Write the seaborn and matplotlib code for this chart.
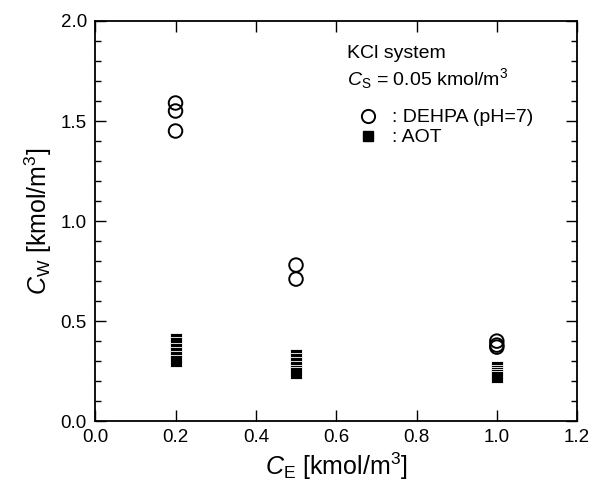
import numpy as np
import pandas as pd
import matplotlib
matplotlib.use('Agg')
import matplotlib.pyplot as plt
import seaborn as sns
from matplotlib.lines import Line2D

# Data
dehpa_ce = [0.2, 0.2, 0.2, 0.5, 0.5, 1.0, 1.0, 1.0]
dehpa_cw = [1.59, 1.55, 1.45, 0.78, 0.71, 0.40, 0.38, 0.37]

aot_ce = [0.2, 0.2, 0.2, 0.2, 0.2, 0.2,
          0.5, 0.5, 0.5, 0.5, 0.5, 0.5,
          1.0, 1.0, 1.0, 1.0, 1.0]
aot_cw = [0.41, 0.39, 0.36, 0.34, 0.32, 0.30,
          0.33, 0.31, 0.29, 0.27, 0.25, 0.24,
          0.27, 0.25, 0.24, 0.23, 0.22]

x_ticks = [0.0, 0.2, 0.4, 0.6, 0.8, 1.0, 1.2]
y_ticks = [0.0, 0.5, 1.0, 1.5, 2.0]

df = pd.concat([
    pd.DataFrame({'CE': dehpa_ce, 'CW': dehpa_cw, 'series': 'DEHPA'}),
    pd.DataFrame({'CE': aot_ce, 'CW': aot_cw, 'series': 'AOT'}),
])

sns.set_style('ticks')
plt.rcParams['font.family'] = ['Liberation Sans', 'DejaVu Sans']
plt.rcParams['mathtext.fontset'] = 'custom'
plt.rcParams['mathtext.rm'] = 'Liberation Sans'
plt.rcParams['mathtext.it'] = 'Liberation Sans:italic'
plt.rcParams['text.color'] = 'black'
plt.rcParams['axes.labelcolor'] = 'black'
plt.rcParams['xtick.color'] = 'black'
plt.rcParams['ytick.color'] = 'black'

fig = plt.figure(figsize=(5.95, 4.99), dpi=100)
ax = fig.add_axes([0.16, 0.156, 0.81, 0.802])

sns.scatterplot(data=df[df.series == 'DEHPA'], x='CE', y='CW', ax=ax,
                marker='o', s=95, facecolor='none', edgecolor='black',
                linewidth=1.4, legend=False, zorder=3)
sns.scatterplot(data=df[df.series == 'AOT'], x='CE', y='CW', ax=ax,
                marker='s', s=70, color='black', edgecolor='white',
                linewidth=0.6, legend=False, zorder=3)

ax.set_xlim(0, 1.2)
ax.set_ylim(0, 2.0)
ax.set_xticks(x_ticks)
ax.set_yticks(y_ticks)
ax.set_xticklabels([f'{v:.1f}' for v in x_ticks])
ax.set_yticklabels([f'{v:.1f}' for v in y_ticks])
ax.set_yticks(np.arange(0, 2.01, 0.1), minor=True)
ax.tick_params(which='both', direction='in', top=True, right=True,
               labelsize=13.5, width=1.0, pad=6)
ax.tick_params(which='major', length=8)
ax.tick_params(which='minor', length=4)
for sp in ax.spines.values():
    sp.set_linewidth(1.3)
    sp.set_color('black')

ax.set_xlabel(r'$\mathit{C}_{\mathrm{E}}$ [kmol/m$^3$]', fontsize=18, labelpad=3)
ax.set_ylabel(r'$\mathit{C}_{\mathrm{W}}$ [kmol/m$^3$]', fontsize=18, labelpad=5)

ax.text(0.523, 0.918, 'KCl system', transform=ax.transAxes, fontsize=14,
        va='center')
ax.text(0.523, 0.855, r'$\mathit{C}_{\mathrm{S}}$ = 0.05 kmol/m$^3$',
        transform=ax.transAxes, fontsize=14, va='center')

handles = [
    Line2D([], [], marker='o', ls='none', mfc='none', mec='black', mew=1.4, ms=9.5),
    Line2D([], [], marker='s', ls='none', mfc='black', mec='black', ms=7.5),
]
ax.legend(handles, [': DEHPA (pH=7)', ': AOT'], loc='upper left',
          bbox_to_anchor=(0.52, 0.80), frameon=False, fontsize=14,
          handletextpad=0.5, labelspacing=0.12, handlelength=1.5,
          borderaxespad=0)

fig.savefig('out.png', dpi=100)
